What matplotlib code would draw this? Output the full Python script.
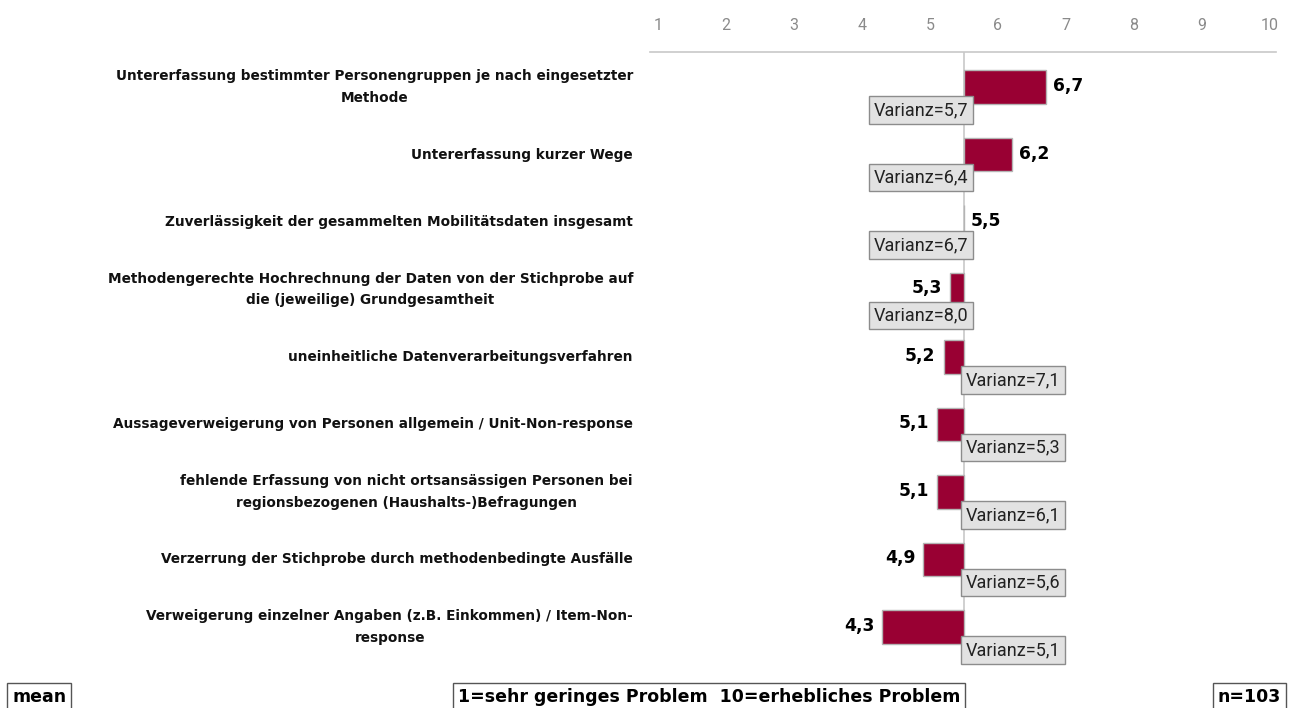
import matplotlib
matplotlib.use("Agg")
import matplotlib.pyplot as plt

categories = [
    "Untererfassung bestimmter Personengruppen je nach eingesetzter\nMethode",
    "Untererfassung kurzer Wege",
    "Zuverlässigkeit der gesammelten Mobilitätsdaten insgesamt",
    "Methodengerechte Hochrechnung der Daten von der Stichprobe auf\ndie (jeweilige) Grundgesamtheit",
    "uneinheitliche Datenverarbeitungsverfahren",
    "Aussageverweigerung von Personen allgemein / Unit-Non-response",
    "fehlende Erfassung von nicht ortsansässigen Personen bei\nregionsbezogenen (Haushalts-)Befragungen",
    "Verzerrung der Stichprobe durch methodenbedingte Ausfälle",
    "Verweigerung einzelner Angaben (z.B. Einkommen) / Item-Non-\nresponse",
]
means = [6.7, 6.2, 5.5, 5.3, 5.2, 5.1, 5.1, 4.9, 4.3]
variances = [5.7, 6.4, 6.7, 8.0, 7.1, 5.3, 6.1, 5.6, 5.1]
ticks = [1, 2, 3, 4, 5, 6, 7, 8, 9, 10]
center = 5.5

W, H = 1289, 708
fig = plt.figure(figsize=(W / 100, H / 100), dpi=100)

ax_left, ax_right = 650, 1276
ax_top, ax_bot = 52, 662
px_per_unit = 68.0
x0 = 1 - (658 - ax_left) / px_per_unit
x1 = x0 + (ax_right - ax_left) / px_per_unit
ax = fig.add_axes([ax_left / W, 1 - ax_bot / H, (ax_right - ax_left) / W, (ax_bot - ax_top) / H])
ax.set_xlim(x0, x1)
row_px = 67.5
first_row = 87
ax.set_ylim(8 + (ax_bot - first_row - 8 * row_px) / row_px, -(first_row - ax_top) / row_px)
for s in ax.spines.values():
    s.set_visible(False)
ax.set_yticks([])
ax.xaxis.tick_top()
ax.set_xticks(ticks)
ax.set_xticklabels([str(t) for t in ticks], color="#8a8a8a", fontsize=11.5, family=["Roboto", "DejaVu Sans"])
ax.tick_params(axis="x", length=0, pad=14)
ax.axhline(ax.get_ylim()[1], color="#c8c8c8", lw=1.2, clip_on=False)
ax.axvline(center, color="#c8c8c8", lw=1.2)

bar_color = "#990033"
rows = list(range(len(means)))
widths = [m - center for m in means]
ax.barh(rows, widths, left=center, height=0.49, color=bar_color, edgecolor="#b4b4b4", lw=1.0, zorder=3)

pt = 0.72  # points per pixel
for i, (m, v) in enumerate(zip(means, variances)):
    lab = f"{m:.1f}".replace(".", ",")
    if m >= center:
        ax.annotate(lab, (m, i), xytext=(7 * pt, 1 * pt), textcoords="offset points",
                    ha="left", va="center", fontsize=12.3, fontweight="bold", zorder=5)
    else:
        ax.annotate(lab, (m, i), xytext=(-8 * pt, 1 * pt), textcoords="offset points",
                    ha="right", va="center", fontsize=12.3, fontweight="bold", zorder=5)
    vlab = f"Varianz={v:.1f}".replace(".", ",")
    dy = -26 if abs(m - 5.3) < 1e-9 else -23
    box = dict(boxstyle="square,pad=0.25", fc="#e2e2e2", ec="#8c8c8c", lw=1.0)
    if m >= 5.3:
        ax.annotate(vlab, (center, i), xytext=(4 * pt, dy * pt), textcoords="offset points",
                    ha="right", va="center", fontsize=13, family=["Roboto", "DejaVu Sans"], color="#222222",
                    bbox=box, zorder=6)
    else:
        ax.annotate(vlab, (center, i), xytext=(1.5 * pt, dy * pt), textcoords="offset points",
                    ha="left", va="center", fontsize=13, family=["Roboto", "DejaVu Sans"], color="#222222",
                    bbox=box, zorder=6)
    # category label
    ax.annotate(categories[i], (0, i), xycoords=("figure fraction", "data"),
                xytext=(633 * pt, 0), textcoords=("figure points", "offset points"),
                ha="right", va="center", multialignment="center",
                fontsize=9.8, fontweight="bold", color="#111111", linespacing=1.7)

box_kw = dict(boxstyle="square,pad=0.28", fc="white", ec="#555555", lw=1.0)
fig.text(12 / W, 1 - 697 / H, "mean", ha="left", va="center", fontsize=12.5, fontweight="bold", bbox=box_kw)
fig.text(709 / W, 1 - 697 / H, "1=sehr geringes Problem  10=erhebliches Problem", ha="center", va="center",
         fontsize=12.5, fontweight="bold", bbox=box_kw)
fig.text(1281 / W, 1 - 697 / H, "n=103", ha="right", va="center", fontsize=12.5, fontweight="bold", bbox=box_kw)

fig.savefig("out.png", dpi=100)
